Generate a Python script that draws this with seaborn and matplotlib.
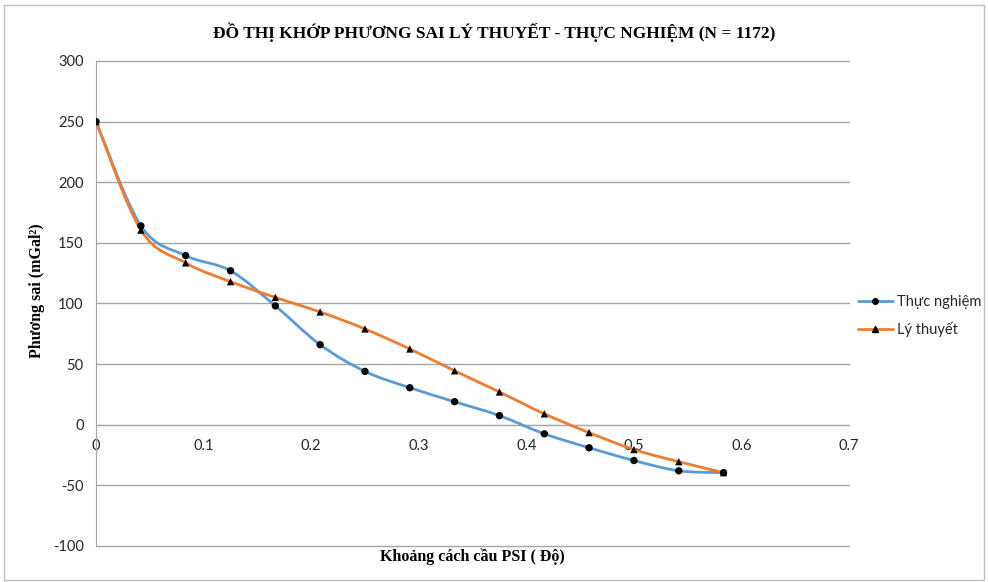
import numpy as np
import pandas as pd
import matplotlib
matplotlib.use("Agg")
import matplotlib.pyplot as plt
import seaborn as sns
from matplotlib.path import Path
from matplotlib.patches import PathPatch, Rectangle
from matplotlib.lines import Line2D

# ---- data (x step = 1/24 degree) ----
psi = [0.0, 0.0417, 0.0833, 0.125, 0.1667, 0.2083, 0.25, 0.2917,
       0.3333, 0.375, 0.4167, 0.4583, 0.5, 0.5417, 0.5833]
thuc_nghiem = [250, 164, 139.5, 127, 98, 66, 44, 30.5,
               19, 7.5, -7.5, -19, -29.5, -38, -39.5]
ly_thuyet = [250, 160.5, 133.5, 118, 105, 93, 79, 62.5,
             44.5, 27, 9, -6.5, -20.5, -30.5, -39.5]

df = pd.DataFrame({"psi": psi * 2,
                   "value": thuc_nghiem + ly_thuyet,
                   "series": ["Thực nghiệm"] * len(psi) + ["Lý thuyết"] * len(psi)})

BLUE = "#5B9BD5"
ORANGE = "#ED7D31"
GRID = "#A6A6A6"
TXT = "#262626"

sns.set_style("white")
plt.rcParams["font.family"] = ["Lato", "DejaVu Sans"]
plt.rcParams["axes.unicode_minus"] = False


def smooth_path(xs, ys):
    # Excel-style smoothed line: cubic Bezier through the points
    pts = np.column_stack([xs, ys]).astype(float)
    verts = [pts[0]]
    codes = [Path.MOVETO]
    n = len(pts)
    for i in range(n - 1):
        p0 = pts[i - 1] if i > 0 else pts[i]
        p1 = pts[i]
        p2 = pts[i + 1]
        p3 = pts[i + 2] if i + 2 < n else pts[i + 1]
        c1 = p1 + (p2 - p0) / 6.0
        c2 = p2 - (p3 - p1) / 6.0
        verts += [c1, c2, p2]
        codes += [Path.CURVE4] * 3
    return Path(verts, codes)


fig = plt.figure(figsize=(9.88, 5.82), dpi=100)
ax = fig.add_axes([0.0972, 0.0619, 0.7622, 0.8333])

# chart border
fig.patches.append(Rectangle((0.004, 0.004), 0.992, 0.988, transform=fig.transFigure,
                             fill=False, edgecolor="#BFBFBF", linewidth=1))

for ys, col in [(thuc_nghiem, BLUE), (ly_thuyet, ORANGE)]:
    ax.add_patch(PathPatch(smooth_path(psi, ys), facecolor="none",
                           edgecolor=col, linewidth=2, zorder=3))

sns.scatterplot(data=df, x="psi", y="value", style="series",
                markers={"Thực nghiệm": "o", "Lý thuyết": "^"},
                color="black", s=28, edgecolor="none", ax=ax, zorder=4, legend=False)

ax.set_xlim(0, 0.7)
ax.set_ylim(-100, 300)
ax.set_xticks(np.arange(0, 0.71, 0.1))
ax.set_xticklabels(["0", "0.1", "0.2", "0.3", "0.4", "0.5", "0.6", "0.7"])
ax.set_yticks(range(-100, 301, 50))
ax.yaxis.grid(True, color=GRID, linewidth=1)
for gl in ax.get_ygridlines():
    gl.set_clip_on(False)
ax.set_axisbelow(True)

for s in ["top", "right"]:
    ax.spines[s].set_visible(False)
ax.spines["left"].set_color(GRID)
ax.spines["bottom"].set_color(GRID)
ax.spines["bottom"].set_position(("data", 0))
ax.tick_params(axis="both", colors=GRID, labelcolor=TXT, labelsize=10.5,
               length=5, width=1, direction="out")
ax.tick_params(axis="x", pad=5)
ax.tick_params(axis="y", pad=4)

ax.set_xlabel("")
ax.set_ylabel("")
fig.text(0.5, 0.945, "ĐỒ THỊ KHỚP PHƯƠNG SAI LÝ THUYẾT - THỰC NGHIỆM (N = 1172)",
         ha="center", va="center", fontsize=12.5, fontweight="bold",
         family=["Liberation Serif", "DejaVu Serif"], color="black")
fig.text(0.478, 0.043, "Khoảng cách cầu PSI ( Độ)", ha="center", va="center",
         fontsize=11.5, fontweight="bold", family=["Liberation Serif", "DejaVu Serif"],
         color="black")
fig.text(0.037, 0.5, "Phương sai (mGal²)", ha="center", va="center", rotation=90,
         fontsize=11.5, fontweight="bold", family=["Liberation Serif", "DejaVu Serif"],
         color="black")

handles = [Line2D([], [], color=BLUE, lw=2, marker="o", markersize=4,
                  markerfacecolor="black", markeredgecolor="black"),
           Line2D([], [], color=ORANGE, lw=2, marker="^", markersize=4,
                  markerfacecolor="black", markeredgecolor="black")]
fig.legend(handles, ["Thực nghiệm", "Lý thuyết"], loc="center left",
           bbox_to_anchor=(0.858, 0.457), frameon=False, fontsize=10.5,
           handlelength=2.4, handletextpad=0.25, labelspacing=0.9,
           borderpad=0.2)

fig.savefig("out.png", dpi=100)
